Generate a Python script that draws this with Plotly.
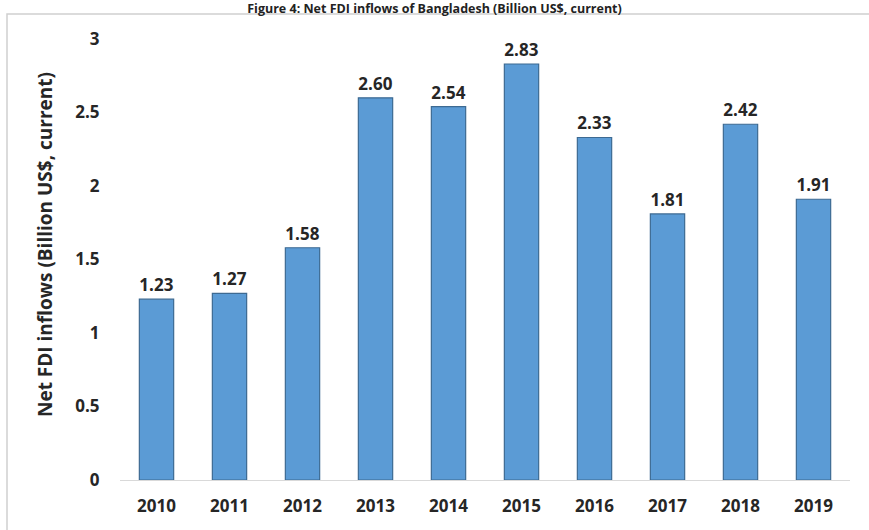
import plotly.graph_objects as go

years = ["2010", "2011", "2012", "2013", "2014", "2015", "2016", "2017", "2018", "2019"]
fdi = [1.23, 1.27, 1.58, 2.60, 2.54, 2.83, 2.33, 1.81, 2.42, 1.91]
labels = ["1.23", "1.27", "1.58", "2.60", "2.54", "2.83", "2.33", "1.81", "2.42", "1.91"]
y_ticks = [0, 0.5, 1, 1.5, 2, 2.5, 3]
y_tick_text = ["0", "0.5", "1", "1.5", "2", "2.5", "3"]

FONT = "Open Sans"
TXT = "#262626"

L, R, T, B = 120, 19, 39, 50
W, H = 869, 530
pw, ph = W - L - R, H - T - B

def px_x(px):
    return (px - L) / pw

def px_y(py):
    return (H - B - py) / ph

fig = go.Figure(go.Bar(
    x=years, y=fdi,
    text=labels, textposition="outside", cliponaxis=False,
    textfont=dict(family=FONT, size=17, color=TXT, weight="bold"),
    marker=dict(color="#5B9BD5", line=dict(color="#3D6A92", width=1.2)),
))

fig.update_layout(
    width=W, height=H,
    margin=dict(l=L, r=R, t=T, b=B),
    paper_bgcolor="white", plot_bgcolor="white",
    bargap=0.53,
    showlegend=False,
    title=dict(
        text="<b>Figure 4: Net FDI inflows of Bangladesh (Billion US$, current)</b>",
        x=0.5, xanchor="center", y=1 - 9 / H, yanchor="middle",
        font=dict(family=FONT, size=12.5, color="#222222"),
    ),
    xaxis=dict(
        showgrid=False, showline=True, linecolor="#D9D9D9", linewidth=1,
        ticks="outside", tickcolor="rgba(0,0,0,0)", ticklen=11,
        tickfont=dict(family=FONT, size=17, color=TXT, weight="bold"),
    ),
    yaxis=dict(
        range=[0, 3], showgrid=False, zeroline=False, showline=False,
        tickvals=y_ticks, ticktext=y_tick_text,
        ticks="outside", tickcolor="rgba(0,0,0,0)", ticklen=16,
        tickfont=dict(family=FONT, size=17, color=TXT, weight="bold"),
    ),
    annotations=[dict(
        text="<b>Net FDI inflows (Billion US$, current)</b>",
        xref="paper", yref="paper", x=px_x(45), y=px_y(245),
        xanchor="center", yanchor="middle", textangle=-90, showarrow=False,
        font=dict(family=FONT, size=19, color=TXT),
    )],
    shapes=[dict(
        type="rect", xref="paper", yref="paper",
        x0=px_x(7), x1=px_x(880), y0=px_y(540), y1=px_y(14),
        line=dict(color="#D0D0D0", width=1.5), fillcolor="rgba(0,0,0,0)", layer="below",
    )],
)

fig.write_html("out.html")
